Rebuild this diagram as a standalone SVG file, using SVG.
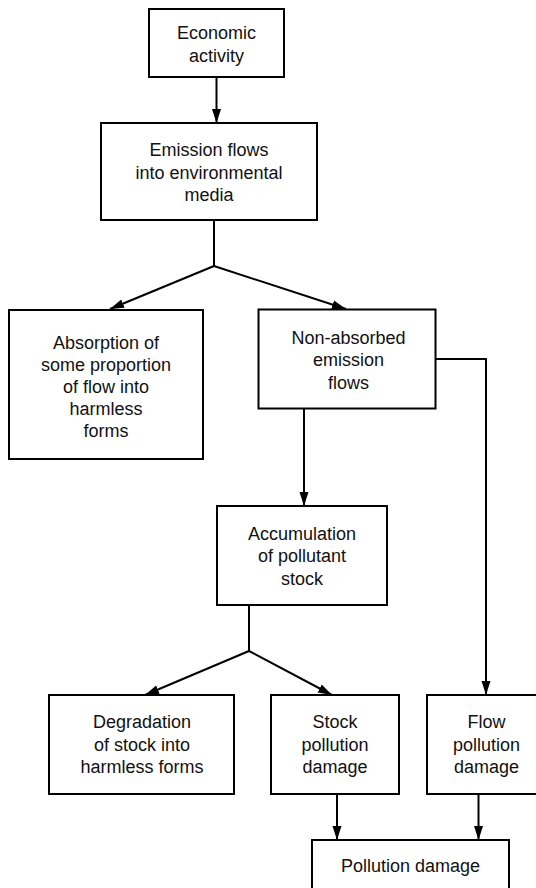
<svg xmlns="http://www.w3.org/2000/svg" width="536" height="888" viewBox="0 0 536 888">
<defs>
<style>
.box{fill:#fff;stroke:#000;stroke-width:2}
.t{font-family:"Liberation Sans",Arial,sans-serif;font-size:18px;fill:#111;text-anchor:middle}
.c{fill:none;stroke:#000;stroke-width:2}
</style>
<marker id="ah" markerUnits="userSpaceOnUse" markerWidth="14" markerHeight="10" refX="14" refY="5" orient="auto">
<path d="M0,0.5 L14,5 L0,9.5 z" fill="#000"/>
</marker>
</defs>
<rect width="536" height="888" fill="#fff"/>
<g id="connectors">
<path class="c" d="M216.5,77 V123" marker-end="url(#ah)"/>
<path class="c" d="M214,220 V266"/>
<path class="c" d="M214,266 L110,309" marker-end="url(#ah)"/>
<path class="c" d="M214,266 L346,309" marker-end="url(#ah)"/>
<path class="c" d="M304,408 V506" marker-end="url(#ah)"/>
<path class="c" d="M436,359 H486 V695" marker-end="url(#ah)"/>
<path class="c" d="M249,605 V651"/>
<path class="c" d="M249,651 L145,695" marker-end="url(#ah)"/>
<path class="c" d="M249,651 L332,695" marker-end="url(#ah)"/>
<path class="c" d="M337,794 V840" marker-end="url(#ah)"/>
<path class="c" d="M478.5,794 V840" marker-end="url(#ah)"/>
</g>
<g id="economic">
<rect class="box" x="149" y="9" width="135" height="68"/>
<text class="t" x="216.5" y="39">Economic</text>
<text class="t" x="216.5" y="61.5">activity</text>
</g>
<g id="emission">
<rect class="box" x="101" y="123" width="216" height="97"/>
<text class="t" x="209" y="156">Emission flows</text>
<text class="t" x="209" y="178.5">into environmental</text>
<text class="t" x="209" y="201">media</text>
</g>
<g id="absorption">
<rect class="box" x="9" y="310" width="194" height="149"/>
<text class="t" x="106" y="348.5">Absorption of</text>
<text class="t" x="106" y="370.5">some proportion</text>
<text class="t" x="106" y="392.5">of flow into</text>
<text class="t" x="106" y="414.5">harmless</text>
<text class="t" x="106" y="436.5">forms</text>
</g>
<g id="nonabsorbed">
<rect class="box" x="258.5" y="309.5" width="177" height="99"/>
<text class="t" x="348.5" y="343.5">Non-absorbed</text>
<text class="t" x="348.5" y="366">emission</text>
<text class="t" x="348.5" y="388.5">flows</text>
</g>
<g id="accumulation">
<rect class="box" x="217" y="506" width="170" height="99"/>
<text class="t" x="302" y="539.5">Accumulation</text>
<text class="t" x="302" y="562">of pollutant</text>
<text class="t" x="302" y="584.5">stock</text>
</g>
<g id="degradation">
<rect class="box" x="49" y="695" width="185" height="99"/>
<text class="t" x="142" y="728">Degradation</text>
<text class="t" x="142" y="750.5">of stock into</text>
<text class="t" x="142" y="773">harmless forms</text>
</g>
<g id="stock">
<rect class="box" x="271" y="695" width="128" height="99"/>
<text class="t" x="335" y="728">Stock</text>
<text class="t" x="335" y="750.5">pollution</text>
<text class="t" x="335" y="773">damage</text>
</g>
<g id="flow">
<rect class="box" x="427" y="695" width="119" height="99"/>
<text class="t" x="486.5" y="728">Flow</text>
<text class="t" x="486.5" y="750.5">pollution</text>
<text class="t" x="486.5" y="773">damage</text>
</g>
<g id="pollution">
<rect class="box" x="312" y="840" width="197" height="70"/>
<text class="t" x="410.5" y="872">Pollution damage</text>
</g>
</svg>
